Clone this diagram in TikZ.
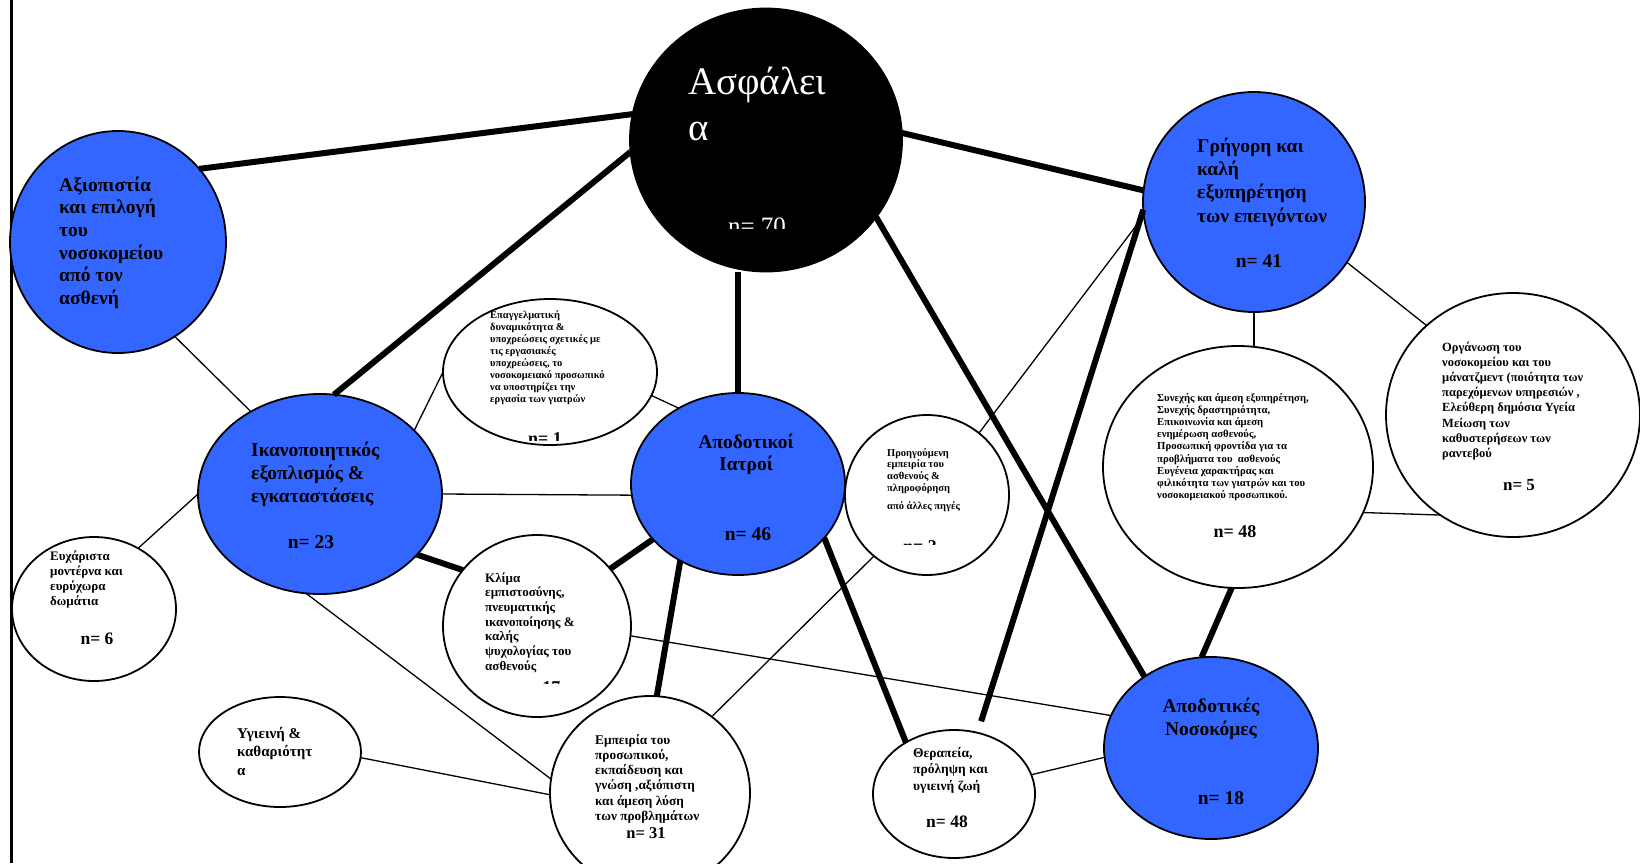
\documentclass[tikz,border=0pt]{standalone}
\usepackage{fontspec}
\setmainfont{Liberation Serif}
\usetikzlibrary{shapes.geometric}
\definecolor{bubbleblue}{RGB}{51,102,255}
\newcommand{\txtsize}[2]{\fontsize{#1}{#2}\selectfont\bfseries}

\begin{document}
\begin{tikzpicture}[x=1pt,y=-1pt,
  bubble/.style={ellipse,draw,line width=1.8pt,inner sep=0pt,outer sep=0pt},
  bluebubble/.style={bubble,fill=bubbleblue},
  whitebubble/.style={bubble,fill=white},
  strongline/.style={line width=6pt},
  weakline/.style={line width=1.3pt},
  txt/.style={inner sep=0pt,align=left,anchor=base west},
  cnt/.style={inner sep=0pt,anchor=base}]
\useasboundingbox (0,0) rectangle (1640,863);
\fill [white] (0,0) rectangle (1640,863);
\draw [line width=3pt] (11,0) -- (11,863);

\node (asf) at (766,140) [bubble,fill=black,minimum width=272,minimum height=263] {};
\node (axi) at (118,242) [bluebubble,minimum width=216,minimum height=222] {};
\node (gri) at (1254,202) [bluebubble,minimum width=222,minimum height=220] {};
\node (ika) at (320,494) [bluebubble,minimum width=244,minimum height=200] {};
\node (iat) at (738,484) [bluebubble,minimum width=214,minimum height=182] {};
\node (nos) at (1211,748) [bluebubble,minimum width=214,minimum height=182] {};
\node (epa) at (550,372) [whitebubble,minimum width=214,minimum height=146] {};
\node (pro) at (927,495) [whitebubble,minimum width=164,minimum height=160] {};
\node (syn) at (1238,467) [whitebubble,minimum width=270,minimum height=242] {};
\node (org) at (1513,415) [whitebubble,minimum width=254,minimum height=244] {};
\node (eyx) at (94,609) [whitebubble,minimum width=164,minimum height=144] {};
\node (kli) at (537,626) [whitebubble,minimum width=188,minimum height=182] {};
\node (ygi) at (280,752) [whitebubble,minimum width=162,minimum height=110] {};
\node (emp) at (650,793) [whitebubble,minimum width=200,minimum height=194] {};
\node (the) at (954,794) [whitebubble,minimum width=162,minimum height=128] {};

\draw [strongline] (asf.169) -- (axi.42);
\draw [strongline] (asf.185) -- (ika.82);
\draw [strongline] (iat.north) -- (asf.south -| iat.north);
\draw [strongline] (asf.3) -- (gri.174);
\draw [strongline] (asf.325) -- (nos.133);
\draw [strongline] (ika.328) -- (kli.143);
\draw [strongline] (iat.213) -- (kli.38);
\draw [strongline] (iat.233) -- (emp.86);
\draw [strongline] (iat.328) -- (the.133);
\draw [strongline,shorten >=12pt] (gri.184) -- (the.69);
\draw [strongline] (syn.267) -- (nos.96);

\draw [weakline] (axi.301) -- (ika.130);
\draw [weakline] (ika.34) -- (epa.180);
\draw [weakline] (epa.347) -- (iat.128);
\draw [weakline] (ika.0) -- (iat.186);
\draw [weakline] (ika.180) -- (eyx.54);
\draw [weakline] (ika.262) -- (emp.172);
\draw [weakline] (kli.354) -- (nos.162);
\draw [weakline] (pro.50) -- (gri.187);
\draw [weakline] (pro.229) -- (emp.51);
\draw [weakline] (gri.south) -- (gri.south |- syn.north);
\draw [weakline] (gri.327) -- (org.134);
\draw [weakline] (syn.340) -- (org.234);
\draw [weakline] (ygi.356) -- (emp.181);
\draw [weakline] (the.14) -- (nos.185);

\node (asftxt) at (688,140) [txt,text=white,font=\fontsize{39}{46}\selectfont] {Ασφάλει\\α};
\begin{scope}
\clip (700,200) rectangle (820,228.5);
\node (asfn) at (757,234.5) [cnt,text=white,font=\fontsize{25}{25}\selectfont] {n= 70};
\end{scope}

\node (axitxt) at (59,304.5) [txt,font=\txtsize{19.5}{22.7}] {Αξιοπιστία\\και επιλογή\\του\\νοσοκομείου\\από τον\\ασθενή};
\node (gritxt) at (1197,222) [txt,font=\txtsize{19.5}{23.3}] {Γρήγορη και\\καλή\\εξυπηρέτηση\\των επειγόντων};
\node (grin) at (1259,267) [cnt,font=\txtsize{19.5}{20}] {n= 41};
\node (ikatxt) at (251,502) [txt,font=\txtsize{19.5}{23}] {Ικανοποιητικός\\εξοπλισμός \&\\εγκαταστάσεις};
\node (ikan) at (311,548) [cnt,font=\txtsize{19.5}{20}] {n= 23};
\node (iattxt) at (746,470) [cnt,align=center,font=\txtsize{19.5}{22}] {Αποδοτικοί\\Ιατροί};
\node (iatn) at (748,540) [cnt,font=\txtsize{19.5}{20}] {n= 46};
\node (nostxt) at (1211,735) [cnt,align=center,font=\txtsize{19.5}{23}] {Αποδοτικές\\Νοσοκόμες};
\node (nosn) at (1221,804) [cnt,font=\txtsize{19.5}{20}] {n= 18};

\node (epatxt) at (490,402.7) [txt,font=\txtsize{10.5}{12.1}] {Επαγγελματική\\δυναμικότητα \&\\υποχρεώσεις σχετικές με\\τις εργασιακές\\υποχρεώσεις, το\\νοσοκομειακό προσωπικό\\να υποστηρίζει την\\εργασία των γιατρών};
\begin{scope}
\clip (500,420) rectangle (600,440);
\node (epan) at (545,444) [cnt,font=\txtsize{18}{18}] {n= 1};
\end{scope}

\node (protxt) at (887,509.2) [txt,font=\txtsize{10.5}{11.8}] {Προηγούμενη\\εμπειρία του\\ασθενούς \&\\πληροφόρηση\\[6pt]από άλλες πηγές};
\begin{scope}
\clip (880,530) rectangle (960,544);
\node (pron) at (920,552) [cnt,font=\txtsize{18}{18}] {n= 3};
\end{scope}

\node (syntxt) at (1157,498.6) [txt,font=\txtsize{10.7}{12.2}] {Συνεχής και άμεση εξυπηρέτηση,\\Συνεχής δραστηριότητα,\\Επικοινωνία και άμεση\\ενημέρωση ασθενούς,\\Προσωπική φροντίδα για τα\\προβλήματα του~ ασθενούς\\Ευγένεια χαρακτήρας και\\φιλικότητα των γιατρών και του\\νοσοκομειακού προσωπικού.};
\node (synn) at (1235,537) [cnt,font=\txtsize{18}{18}] {n= 48};

\node (orgtxt) at (1442,457.4) [txt,font=\txtsize{12.5}{15.2}] {Οργάνωση του\\νοσοκομείου και του\\μάνατζμεντ (ποιότητα των\\παρεχόμενων υπηρεσιών ,\\Ελεύθερη δημόσια Υγεία\\Μείωση των\\καθυστερήσεων των\\ραντεβού};
\node (orgn) at (1519,490) [cnt,font=\txtsize{17}{17}] {n= 5};

\node (klitxt) at (485,670.2) [txt,font=\txtsize{13}{14.7}] {Κλίμα\\εμπιστοσύνης,\\πνευματικής\\ικανοποίησης \&\\καλής\\ψυχολογίας του\\ασθενούς};
\begin{scope}
\clip (500,670) rectangle (600,683.5);
\node (klin) at (539,693) [cnt,font=\txtsize{18}{18}] {n= 17};
\end{scope}

\node (emptxt) at (595,820.5) [txt,font=\txtsize{13.3}{15.3}] {Εμπειρία του\\προσωπικού,\\εκπαίδευση και\\γνώση ,αξιόπιστη\\και άμεση λύση\\των προβλημάτων};
\node (empn) at (646,838) [cnt,font=\txtsize{16.5}{17}] {n= 31};

\node (eyxtxt) at (50,605) [txt,font=\txtsize{13}{15}] {Ευχάριστα\\μοντέρνα και\\ευρύχωρα\\δωμάτια};
\node (eyxn) at (97,644) [cnt,font=\txtsize{17.5}{18}] {n= 6};

\node (ygitxt) at (237,775) [txt,font=\txtsize{15}{18.5}] {Υγιεινή \&\\καθαριότητ\\α};

\node (thetxt) at (913,790) [txt,font=\txtsize{13.5}{16.5}] {Θεραπεία,\\πρόληψη και\\υγιεινή ζωή};
\node (then) at (947,827) [cnt,font=\txtsize{17.5}{18}] {n= 48};
\end{tikzpicture}
\end{document}
